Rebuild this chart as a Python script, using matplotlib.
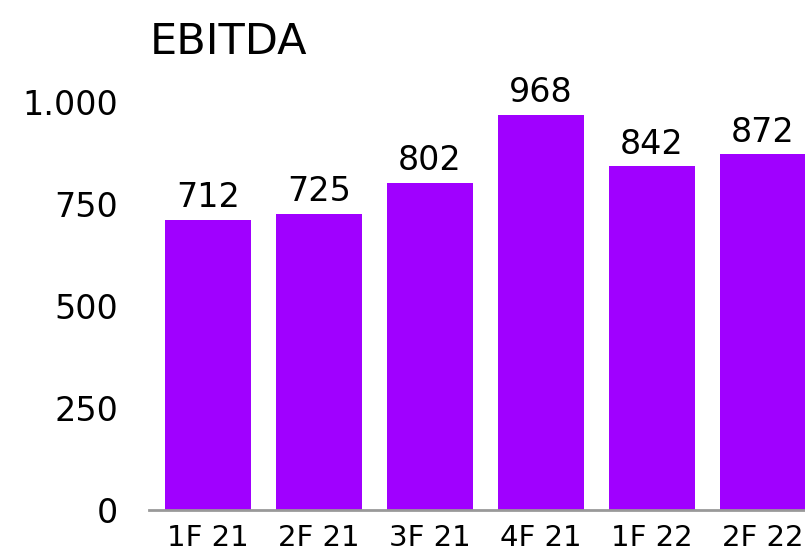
import numpy as np
import matplotlib.pyplot as plt
from matplotlib.ticker import FuncFormatter

# Data
quarters = ['1F 21', '2F 21', '3F 21', '4F 21', '1F 22', '2F 22']
ebitda = [712, 725, 802, 968, 842, 872]
yticks = [0, 250, 500, 750, 1000]

purple = '#A000FF'

fig = plt.figure(figsize=(8.05, 5.57), dpi=100)
ax = fig.add_axes([149/805, 47/557, 656/805, 408/557])

x = np.arange(len(quarters))
bars = ax.bar(x, ebitda, width=0.775, color=purple)

for xi, v in zip(x, ebitda):
    ax.text(xi, v + 14, str(v), ha='center', va='bottom', fontsize=24, clip_on=False)

ax.set_xlim(-0.53, 5.38)
ax.set_ylim(0, 1000)
ax.set_xticks(x)
ax.set_xticklabels(quarters, fontsize=21)
ax.set_yticks(yticks)
ax.yaxis.set_major_formatter(FuncFormatter(lambda v, p: f'{int(v):,}'.replace(',', '.')))
ax.tick_params(axis='y', length=0, pad=22, labelsize=24)
ax.tick_params(axis='x', length=0, pad=10)

for s in ['top', 'right', 'left']:
    ax.spines[s].set_visible(False)
ax.spines['bottom'].set_color('#999999')
ax.spines['bottom'].set_linewidth(2)

fig.text(150/805, 1 - 42/557, 'EBITDA', fontsize=31, ha='left', va='center')

fig.savefig('out.png', dpi=100)
